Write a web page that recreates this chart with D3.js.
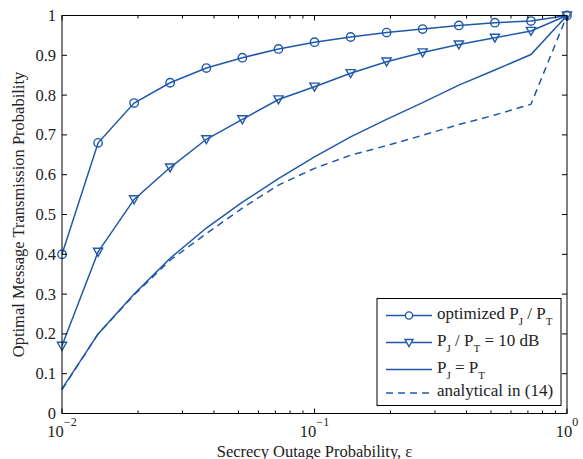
<!DOCTYPE html>
<html>
<head>
<meta charset="utf-8">
<script src="https://cdn.jsdelivr.net/npm/d3@7"></script>
<style>
  html, body { margin: 0; padding: 0; background: #fff; }
  svg { display: block; }
  text { font-family: "Liberation Serif", "Times New Roman", Times, "DejaVu Serif", serif; }
</style>
</head>
<body>
<svg id="chart" width="583" height="459"></svg>
<script>
// ---- data ----
const epsilon = [0.01, 0.0139, 0.0193, 0.0268, 0.0373, 0.0518, 0.0720, 0.1, 0.139, 0.193, 0.268, 0.373, 0.518, 0.720, 1.0];
const optimized = [0.40, 0.68, 0.78, 0.831, 0.868, 0.894, 0.916, 0.933, 0.946, 0.957, 0.966, 0.975, 0.982, 0.986, 1.0];
const tenDB = [0.17, 0.406, 0.538, 0.618, 0.689, 0.739, 0.789, 0.821, 0.855, 0.884, 0.907, 0.927, 0.944, 0.961, 1.0];
const equalPower = [0.062, 0.2, 0.3, 0.39, 0.466, 0.531, 0.59, 0.645, 0.695, 0.739, 0.781, 0.825, 0.863, 0.902, 1.0];
const analytical = [0.06, 0.2, 0.298, 0.385, 0.452, 0.516, 0.574, 0.616, 0.649, 0.673, 0.699, 0.726, 0.750, 0.777, 1.0];
const yTicks = [0, 0.1, 0.2, 0.3, 0.4, 0.5, 0.6, 0.7, 0.8, 0.9, 1];
const yTickLabels = ["0", "0.1", "0.2", "0.3", "0.4", "0.5", "0.6", "0.7", "0.8", "0.9", "1"];
const xMajorTicks = [0.01, 0.1, 1];
const xMajorExps = ["\u22122", "\u22121", "0"];
const xMinorTicks = [0.02, 0.03, 0.04, 0.05, 0.06, 0.07, 0.08, 0.09, 0.2, 0.3, 0.4, 0.5, 0.6, 0.7, 0.8, 0.9];

const FONT = "Liberation Serif";
const color = "#2059a8";
const svg = d3.select("#chart");
const L = 62, R = 567, T = 15.5, B = 413.5;
const x = d3.scaleLog().domain([0.01, 1]).range([L, R]);
const y = d3.scaleLinear().domain([0, 1]).range([B, T]);

const g = svg.append("g");

// series
const series = [
  { vals: optimized, marker: "circle", dash: null },
  { vals: tenDB, marker: "tri", dash: null },
  { vals: equalPower, marker: null, dash: null },
  { vals: analytical, marker: null, dash: "7,5" }
];
const line = d3.line().x(d => x(d[0])).y(d => y(d[1]));
const triPath = "M-4.6,-3.6 L4.6,-3.6 L0,4.4 Z";

series.forEach(s => {
  const pts = epsilon.map((e, i) => [e, s.vals[i]]);
  const p = g.append("path").datum(pts).attr("d", line)
    .attr("fill", "none").attr("stroke", color).attr("stroke-width", 1.5);
  if (s.dash) p.attr("stroke-dasharray", s.dash);
  if (s.marker === "circle") {
    g.selectAll(null).data(pts).enter().append("circle")
      .attr("cx", d => x(d[0])).attr("cy", d => y(d[1])).attr("r", 4.2)
      .attr("fill", "none").attr("stroke", color).attr("stroke-width", 1.4);
  } else if (s.marker === "tri") {
    g.selectAll(null).data(pts).enter().append("path")
      .attr("d", triPath)
      .attr("transform", d => `translate(${x(d[0])},${y(d[1])})`)
      .attr("fill", "none").attr("stroke", color).attr("stroke-width", 1.4);
  }
});

// axes box
const ax = svg.append("g").attr("stroke", "#000").attr("stroke-width", 1).attr("fill", "none");
ax.append("rect").attr("x", L).attr("y", T).attr("width", R - L).attr("height", B - T);

yTicks.forEach(v => {
  ax.append("line").attr("x1", L).attr("x2", L + 5).attr("y1", y(v)).attr("y2", y(v));
  ax.append("line").attr("x1", R).attr("x2", R - 5).attr("y1", y(v)).attr("y2", y(v));
});
xMajorTicks.forEach(v => {
  ax.append("line").attr("x1", x(v)).attr("x2", x(v)).attr("y1", B).attr("y2", B - 5);
  ax.append("line").attr("x1", x(v)).attr("x2", x(v)).attr("y1", T).attr("y2", T + 5);
});
xMinorTicks.forEach(v => {
  ax.append("line").attr("x1", x(v)).attr("x2", x(v)).attr("y1", B).attr("y2", B - 3);
  ax.append("line").attr("x1", x(v)).attr("x2", x(v)).attr("y1", T).attr("y2", T + 3);
});

// y tick labels
svg.append("g").selectAll("text").data(yTicks).enter().append("text")
  .attr("font-family", FONT)
  .attr("x", L - 6).attr("y", d => y(d) + 5.5)
  .attr("text-anchor", "end").attr("font-size", 16.5).attr("fill", "#222")
  .text((d, i) => yTickLabels[i]);

// x tick labels 10^n
xMajorTicks.forEach((v, i) => {
  const t = svg.append("text").attr("font-family", FONT).attr("x", x(v)).attr("y", 436.5)
    .attr("text-anchor", "middle").attr("font-size", 16.5).attr("fill", "#222");
  t.append("tspan").text("10");
  t.append("tspan").attr("dy", -11).attr("font-size", 12).text(xMajorExps[i]);
});

// axis labels
svg.append("text").attr("font-family", FONT).attr("x", (L + R) / 2).attr("y", 456.5)
  .attr("text-anchor", "middle").attr("font-size", 16.5).attr("fill", "#222")
  .text("Secrecy Outage Probability, \u03b5");
svg.append("text").attr("font-family", FONT).attr("transform", `translate(24,${(T + B) / 2}) rotate(-90)`)
  .attr("text-anchor", "middle").attr("font-size", 16.5).attr("fill", "#222")
  .text("Optimal Message Transmission Probability");

// legend
const lg = svg.append("g");
lg.append("rect").attr("x", 377).attr("y", 298.5).attr("width", 184).attr("height", 107)
  .attr("fill", "#fff").attr("stroke", "#000").attr("stroke-width", 1);
const legendRows = [
  { y: 315.5, marker: "circle", dash: null, parts: [["optimized P", 0], ["J", 1], [" / P", 0], ["T", 1]] },
  { y: 342.5, marker: "tri", dash: null, parts: [["P", 0], ["J", 1], [" / P", 0], ["T", 1], [" = 10 dB", 0]] },
  { y: 369.5, marker: null, dash: null, parts: [["P", 0], ["J", 1], [" = P", 0], ["T", 1]] },
  { y: 393, marker: null, dash: "7,5", parts: [["analytical in (14)", 0]] }
];
legendRows.forEach(r => {
  const ln = lg.append("line").attr("x1", 386).attr("x2", 432).attr("y1", r.y).attr("y2", r.y)
    .attr("stroke", color).attr("stroke-width", 1.5);
  if (r.dash) ln.attr("stroke-dasharray", r.dash);
  if (r.marker === "circle") {
    lg.append("circle").attr("cx", 409).attr("cy", r.y).attr("r", 3.6)
      .attr("fill", "#fff").attr("stroke", color).attr("stroke-width", 1.4);
  } else if (r.marker === "tri") {
    lg.append("path").attr("d", "M-4,-3 L4,-3 L0,4 Z")
      .attr("transform", `translate(409,${r.y})`)
      .attr("fill", "#fff").attr("stroke", color).attr("stroke-width", 1.4);
  }
  const t = lg.append("text").attr("font-family", FONT).attr("x", 437).attr("y", r.y + 3)
    .attr("font-size", 17).attr("fill", "#222");
  let prevSub = 0;
  r.parts.forEach(([s, sub]) => {
    const ts = t.append("tspan").text(s);
    const dy = (sub ? 6 : 0) - prevSub;
    if (dy) ts.attr("dy", dy);
    if (sub) ts.attr("font-size", 11);
    prevSub = sub ? 6 : 0;
  });
});
</script>
</body>
</html>
